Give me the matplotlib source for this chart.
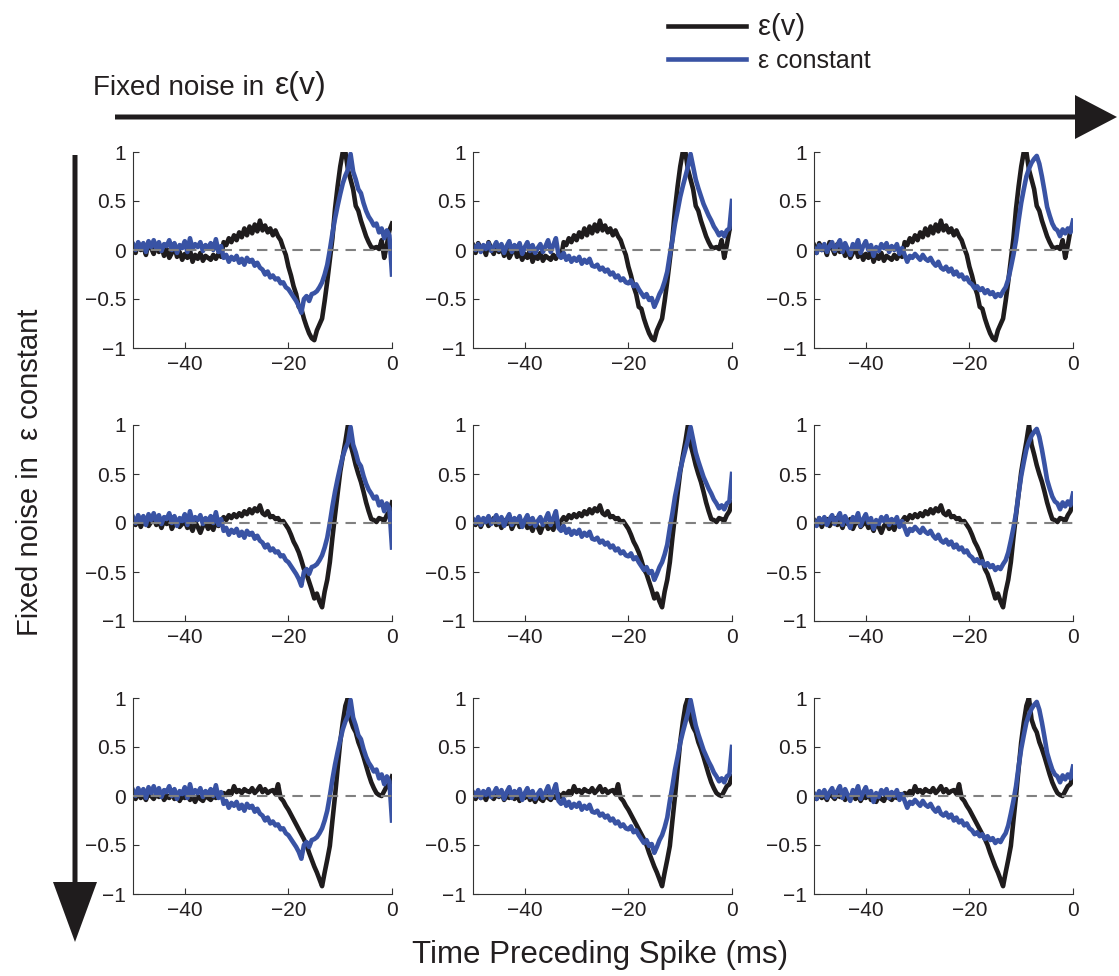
import numpy as np
import matplotlib.pyplot as plt
from matplotlib.patches import FancyArrow
from matplotlib.ticker import FuncFormatter

plt.rcParams['font.family'] = ['Liberation Sans', 'DejaVu Sans']

W, H = 1119, 976

# time axis (ms before spike), sampled every 0.5 ms
t = np.linspace(-50, 0, 101)

# black curve (epsilon(v)) - one per row
black_row1 = [0.05, -0.03, 0.07, 0.00, 0.04, -0.05, 0.08, 0.02, -0.04, 0.06,
              -0.02, 0.03, -0.06, 0.01, -0.08, -0.03, 0.04, -0.07, -0.02, -0.10,
              -0.04, -0.08, 0.00, -0.12, -0.05, -0.09, -0.03, -0.11, -0.06, -0.08,
              -0.10, -0.05, -0.09, -0.04, -0.07, 0.08, 0.05, 0.12, 0.08, 0.15,
              0.10, 0.18, 0.13, 0.22, 0.15, 0.24, 0.17, 0.26, 0.19, 0.30,
              0.20, 0.25, 0.18, 0.22, 0.15, 0.20, 0.14, 0.10, 0.02, -0.05,
              -0.17, -0.26, -0.37, -0.45, -0.58, -0.60, -0.70, -0.78, -0.85, -0.90,
              -0.92, -0.82, -0.76, -0.70, -0.52, -0.32, -0.10, 0.12, 0.42, 0.65,
              0.85, 1.00, 1.00, 0.82, 0.72, 0.62, 0.45, 0.40, 0.30, 0.22,
              0.14, 0.08, 0.03, 0.02, 0.03, 0.01, 0.10, -0.08, 0.05, 0.20,
              0.27]
black_row2 = [0.03, -0.02, 0.05, -0.04, 0.02, 0.04, -0.03, 0.01, 0.05, -0.02,
              0.02, -0.05, 0.03, -0.01, 0.04, -0.06, 0.00, 0.03, -0.04, -0.01,
              0.02, -0.05, -0.02, -0.08, 0.01, -0.04, -0.10, -0.03, 0.00, -0.06,
              -0.02, -0.07, 0.01, -0.03, 0.02, 0.06, 0.03, 0.08, 0.05, 0.09,
              0.06, 0.10, 0.07, 0.12, 0.09, 0.14, 0.10, 0.15, 0.12, 0.18,
              0.10, 0.08, 0.12, 0.06, 0.07, 0.04, 0.05, 0.01, 0.02, -0.02,
              -0.06, -0.12, -0.19, -0.24, -0.30, -0.38, -0.47, -0.52, -0.60, -0.68,
              -0.77, -0.72, -0.80, -0.86, -0.70, -0.58, -0.40, -0.15, 0.08, 0.30,
              0.52, 0.68, 0.83, 1.00, 0.80, 0.70, 0.59, 0.50, 0.42, 0.32,
              0.21, 0.12, 0.04, 0.03, 0.01, 0.05, 0.04, 0.02, 0.08, 0.12,
              0.21]
black_row3 = [0.02, -0.03, 0.04, -0.02, 0.01, -0.04, 0.03, 0.00, -0.03, 0.02,
              -0.01, 0.03, -0.04, 0.00, -0.02, 0.04, -0.03, 0.01, -0.05, 0.00,
              -0.02, 0.03, -0.04, -0.01, -0.06, 0.00, -0.03, -0.05, 0.01, -0.02,
              -0.04, 0.00, -0.02, 0.02, -0.01, 0.03, 0.01, 0.05, 0.02, 0.10,
              0.04, 0.06, 0.03, 0.07, 0.05, 0.04, 0.08, 0.03, 0.06, 0.10,
              0.04, 0.07, 0.03, 0.05, 0.06, 0.02, 0.12, -0.02, -0.05, -0.10,
              -0.14, -0.19, -0.24, -0.29, -0.34, -0.39, -0.44, -0.50, -0.58, -0.65,
              -0.72, -0.78, -0.85, -0.92, -0.78, -0.65, -0.51, -0.25, 0.00, 0.28,
              0.55, 0.75, 0.92, 1.00, 0.78, 0.70, 0.65, 0.55, 0.48, 0.40,
              0.31, 0.22, 0.14, 0.08, 0.03, 0.01, 0.00, 0.05, 0.10, 0.12,
              0.20]

# blue curve (epsilon constant) - one per column
blue_col1 = [0.06, 0.00, 0.08, 0.02, 0.07, -0.02, 0.09, 0.03, 0.10, 0.01,
             0.08, -0.01, 0.06, 0.04, 0.10, 0.00, 0.07, -0.03, 0.05, 0.02,
             0.09, -0.02, 0.12, 0.01, 0.06, 0.03, 0.08, -0.01, 0.05, 0.02,
             0.07, 0.00, 0.11, -0.02, 0.04, -0.08, -0.05, -0.12, -0.07, -0.10,
             -0.06, -0.13, -0.09, -0.15, -0.08, -0.12, -0.10, -0.16, -0.13, -0.18,
             -0.20, -0.25, -0.22, -0.28, -0.26, -0.30, -0.29, -0.34, -0.33, -0.38,
             -0.40, -0.44, -0.48, -0.52, -0.57, -0.64, -0.50, -0.47, -0.52, -0.45,
             -0.44, -0.42, -0.38, -0.33, -0.25, -0.15, 0.00, 0.17, 0.32, 0.45,
             0.57, 0.68, 0.76, 0.82, 0.98, 0.80, 0.72, 0.62, 0.58, 0.48,
             0.40, 0.34, 0.30, 0.25, 0.27, 0.18, 0.22, 0.12, 0.20, 0.15,
             -0.25]
blue_col2 = [0.04, 0.00, 0.06, -0.02, 0.05, 0.01, 0.07, -0.01, 0.03, 0.08,
             0.00, 0.06, -0.03, 0.04, 0.09, -0.02, 0.05, 0.01, 0.07, -0.04,
             0.03, 0.08, -0.01, 0.05, -0.03, 0.02, 0.06, -0.02, 0.04, 0.10,
             -0.02, 0.05, 0.12, -0.05, -0.08, -0.03, -0.10, -0.06, -0.12, -0.08,
             -0.11, -0.07, -0.14, -0.10, -0.13, -0.09, -0.16, -0.17, -0.15, -0.20,
             -0.18, -0.22, -0.20, -0.25, -0.23, -0.28, -0.26, -0.31, -0.29, -0.33,
             -0.34, -0.31, -0.37, -0.35, -0.40, -0.44, -0.48, -0.45, -0.51, -0.49,
             -0.58, -0.52, -0.45, -0.40, -0.32, -0.22, -0.05, 0.10, 0.27, 0.40,
             0.54, 0.65, 0.75, 0.85, 0.98, 0.85, 0.72, 0.63, 0.55, 0.47,
             0.41, 0.35, 0.30, 0.24, 0.20, 0.15, 0.18, 0.14, 0.20, 0.22,
             0.50]
blue_col3 = [0.02, -0.03, 0.05, 0.00, 0.06, -0.02, 0.04, 0.08, -0.01, 0.05,
             0.10, -0.02, 0.07, 0.01, -0.05, 0.06, 0.02, 0.10, -0.03, 0.04,
             0.09, 0.00, 0.05, -0.06, 0.03, -0.01, 0.06, 0.02, 0.07, -0.02,
             0.04, 0.00, 0.06, -0.04, 0.02, -0.05, -0.12, -0.06, -0.08, -0.04,
             -0.07, -0.10, -0.05, -0.09, -0.11, -0.08, -0.13, -0.16, -0.12, -0.18,
             -0.20, -0.17, -0.22, -0.19, -0.25, -0.22, -0.27, -0.25, -0.30, -0.28,
             -0.33, -0.35, -0.39, -0.37, -0.41, -0.39, -0.44, -0.41, -0.45, -0.43,
             -0.48, -0.45, -0.47, -0.42, -0.38, -0.30, -0.18, -0.05, 0.10, 0.30,
             0.48, 0.62, 0.75, 0.83, 0.89, 0.93, 0.96, 0.88, 0.75, 0.60,
             0.44, 0.35, 0.27, 0.22, 0.20, 0.14, 0.21, 0.17, 0.22, 0.18,
             0.30]

black_rows = [black_row1, black_row2, black_row3]
blue_cols = [blue_col1, blue_col2, blue_col3]
labels = ['\u03b5(v)', '\u03b5 constant']

black = '#1f1c1d'
blue = '#3953a4'
txt = '#231f20'

fig = plt.figure(figsize=(W / 100, H / 100), dpi=100)

# overlay in pixel coordinates for the big arrows
ov = fig.add_axes([0, 0, 1, 1], zorder=-1)
ov.set_xlim(0, W)
ov.set_ylim(H, 0)
ov.axis('off')
ov.add_patch(FancyArrow(115, 117, 1002, 0, width=5, head_width=44, head_length=42,
                        length_includes_head=True, color=black, lw=0))
ov.add_patch(FancyArrow(75, 155, 0, 787, width=5, head_width=44, head_length=60,
                        length_includes_head=True, color=black, lw=0))

lefts = [133, 473, 814]
tops = [152, 425, 698]
aw, ah = 259, 196
fmt = FuncFormatter(lambda v, p: f'{v:g}'.replace('-', '\u2212'))

handles = None
for r in range(3):
    for c in range(3):
        ax = fig.add_axes([lefts[c] / W, 1 - (tops[r] + ah) / H, aw / W, ah / H])
        l1, = ax.plot(t, black_rows[r], color=black, lw=3.3, solid_joinstyle='round')
        l2, = ax.plot(t, blue_cols[c], color=blue, lw=3.3, solid_joinstyle='round')
        ax.axhline(0, color='#808080', lw=1.5, ls=(0, (5, 3.5)), zorder=5)
        handles = [l1, l2]
        ax.set_xlim(-50, 0)
        ax.set_ylim(-1, 1)
        ax.set_xticks([-40, -20, 0])
        ax.set_yticks([-1, -0.5, 0, 0.5, 1])
        ax.xaxis.set_major_formatter(fmt)
        ax.yaxis.set_major_formatter(fmt)
        ax.spines['top'].set_visible(False)
        ax.spines['right'].set_visible(False)
        for s in ('left', 'bottom'):
            ax.spines[s].set_linewidth(0.8)
            ax.spines[s].set_color('#333333')
        ax.tick_params(direction='in', length=4, width=0.8, labelsize=15,
                       colors='#333333', labelcolor=txt, pad=5)
        ax.patch.set_alpha(0)

leg = fig.legend(handles, labels, loc='upper left',
                 bbox_to_anchor=(668 / W, 1 - 13 / H), frameon=False,
                 fontsize=18, handlelength=3.1, handletextpad=0.5,
                 labelspacing=0.3, borderpad=0, borderaxespad=0)
leg.get_texts()[0].set_fontsize(21)
for tx in leg.get_texts():
    tx.set_color(txt)

fig.text(93 / W, 1 - 88 / H, 'Fixed noise in', fontsize=20, color=txt, va='center')
fig.text(275 / W, 1 - 86 / H, '\u03b5(v)', fontsize=23, color=txt, va='center')
fig.text(30 / W, 1 - 472 / H, 'Fixed noise in  \u03b5 constant', fontsize=21,
         color=txt, rotation=90, ha='center', va='center')
fig.text(600 / W, 1 - 955 / H, 'Time Preceding Spike (ms)', fontsize=22.5,
         color=txt, ha='center', va='center')

fig.savefig('out.png', dpi=100)
